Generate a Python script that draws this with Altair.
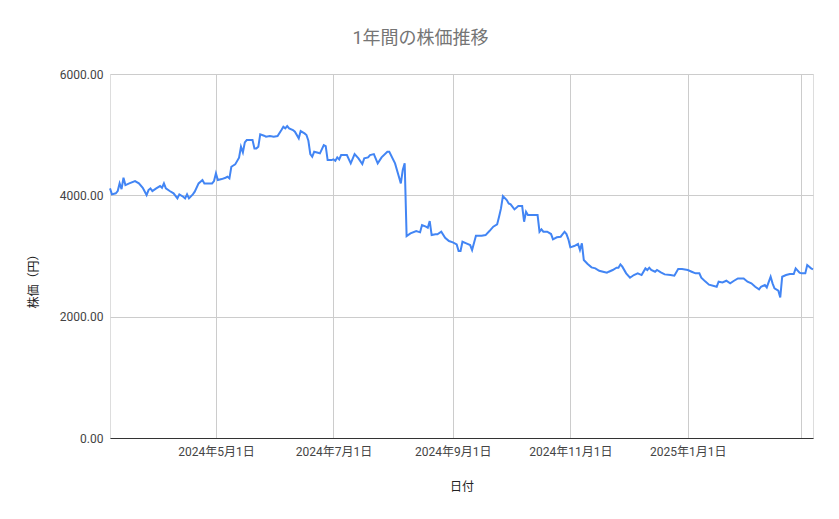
import altair as alt
import pandas as pd

dates = [
    "2024-03-07", "2024-03-08", "2024-03-10", "2024-03-11", "2024-03-12", "2024-03-13",
    "2024-03-14", "2024-03-15", "2024-03-17", "2024-03-20", "2024-03-22", "2024-03-24",
    "2024-03-26", "2024-03-27", "2024-03-28", "2024-03-29", "2024-03-31", "2024-04-02",
    "2024-04-03", "2024-04-04", "2024-04-05", "2024-04-07", "2024-04-09", "2024-04-11",
    "2024-04-12", "2024-04-14", "2024-04-15", "2024-04-16", "2024-04-17", "2024-04-19",
    "2024-04-20", "2024-04-22", "2024-04-24", "2024-04-25", "2024-04-29", "2024-04-30",
    "2024-05-01", "2024-05-02", "2024-05-04", "2024-05-06", "2024-05-07", "2024-05-08",
    "2024-05-09", "2024-05-11", "2024-05-13", "2024-05-14", "2024-05-15", "2024-05-16",
    "2024-05-17", "2024-05-20", "2024-05-21", "2024-05-22", "2024-05-23", "2024-05-24",
    "2024-05-26", "2024-05-27", "2024-05-29", "2024-05-31", "2024-06-02", "2024-06-04",
    "2024-06-05", "2024-06-06", "2024-06-07", "2024-06-08", "2024-06-10", "2024-06-11",
    "2024-06-13", "2024-06-14", "2024-06-16", "2024-06-17", "2024-06-18", "2024-06-19",
    "2024-06-20", "2024-06-21", "2024-06-23", "2024-06-24", "2024-06-26", "2024-06-27",
    "2024-06-28", "2024-06-30", "2024-07-01", "2024-07-02", "2024-07-03", "2024-07-04",
    "2024-07-05", "2024-07-08", "2024-07-10", "2024-07-12", "2024-07-14", "2024-07-16",
    "2024-07-17", "2024-07-19", "2024-07-20", "2024-07-22", "2024-07-24", "2024-07-26",
    "2024-07-29", "2024-07-30", "2024-08-02", "2024-08-04", "2024-08-05", "2024-08-06",
    "2024-08-07", "2024-08-08", "2024-08-10", "2024-08-13", "2024-08-15", "2024-08-16",
    "2024-08-18", "2024-08-19", "2024-08-20", "2024-08-21", "2024-08-23", "2024-08-24",
    "2024-08-26", "2024-08-28", "2024-08-30", "2024-09-01", "2024-09-03", "2024-09-04",
    "2024-09-05", "2024-09-06", "2024-09-08", "2024-09-10", "2024-09-11", "2024-09-13",
    "2024-09-14", "2024-09-16", "2024-09-18", "2024-09-20", "2024-09-22", "2024-09-24",
    "2024-09-25", "2024-09-26", "2024-09-27", "2024-09-29", "2024-09-30", "2024-10-01",
    "2024-10-03", "2024-10-05", "2024-10-07", "2024-10-08", "2024-10-09", "2024-10-10",
    "2024-10-15", "2024-10-16", "2024-10-17", "2024-10-18", "2024-10-20", "2024-10-22",
    "2024-10-23", "2024-10-25", "2024-10-27", "2024-10-29", "2024-10-30", "2024-10-31",
    "2024-11-01", "2024-11-03", "2024-11-05", "2024-11-06", "2024-11-07", "2024-11-08",
    "2024-11-10", "2024-11-12", "2024-11-14", "2024-11-16", "2024-11-18", "2024-11-20",
    "2024-11-21", "2024-11-23", "2024-11-25", "2024-11-26", "2024-11-27", "2024-11-28",
    "2024-11-30", "2024-12-02", "2024-12-04", "2024-12-06", "2024-12-08", "2024-12-10",
    "2024-12-11", "2024-12-12", "2024-12-13", "2024-12-15", "2024-12-16", "2024-12-18",
    "2024-12-20", "2024-12-23", "2024-12-25", "2024-12-27", "2024-12-29", "2025-01-01",
    "2025-01-03", "2025-01-05", "2025-01-07", "2025-01-08", "2025-01-10", "2025-01-12",
    "2025-01-16", "2025-01-17", "2025-01-19", "2025-01-21", "2025-01-23", "2025-01-25",
    "2025-01-27", "2025-01-30", "2025-02-01", "2025-02-03", "2025-02-05", "2025-02-07",
    "2025-02-08", "2025-02-10", "2025-02-11", "2025-02-13", "2025-02-14", "2025-02-15",
    "2025-02-17", "2025-02-18", "2025-02-19", "2025-02-21", "2025-02-23", "2025-02-25",
    "2025-02-26", "2025-02-28", "2025-03-01", "2025-03-03", "2025-03-04", "2025-03-06",
    "2025-03-07",
]

prices = [
    4115, 4016, 4033, 4071, 4197, 4103,
    4290, 4169, 4197, 4235, 4197, 4125,
    4005, 4087, 4115, 4071, 4115, 4153,
    4125, 4197, 4115, 4071, 4033, 3950,
    4016, 3977, 3950, 4016, 3950, 4016,
    4060, 4197, 4252, 4197, 4197, 4235,
    4362, 4252, 4268, 4290, 4307, 4279,
    4471, 4510, 4620, 4800, 4708, 4873,
    4911, 4911, 4774, 4774, 4800, 5005,
    4983, 4966, 4977, 4966, 4977, 5076,
    5131, 5104, 5142, 5104, 5076, 5048,
    4939, 5059, 5021, 4994, 4900, 4680,
    4636, 4718, 4702, 4692, 4829, 4812,
    4581, 4581, 4592, 4570, 4626, 4592,
    4664, 4664, 4527, 4680, 4609, 4515,
    4609, 4626, 4664, 4680, 4527, 4626,
    4718, 4718, 4527, 4307, 4197, 4417,
    4527, 3329, 3373, 3411, 3390, 3510,
    3483, 3466, 3576, 3345, 3357, 3357,
    3400, 3301, 3247, 3225, 3192, 3082,
    3082, 3235, 3209, 3181, 3098, 3334,
    3334, 3334, 3345, 3411, 3483, 3521,
    3647, 3785, 3988, 3922, 3867, 3851,
    3768, 3823, 3823, 3565, 3730, 3675,
    3675, 3400, 3439, 3400, 3400, 3362,
    3275, 3308, 3318, 3400, 3362, 3275,
    3143, 3164, 3197, 3098, 3209, 2933,
    2868, 2813, 2797, 2757, 2741, 2724,
    2741, 2769, 2807, 2807, 2862, 2824,
    2714, 2642, 2686, 2714, 2686, 2796,
    2769, 2807, 2769, 2741, 2769, 2730,
    2697, 2686, 2675, 2785, 2785, 2769,
    2741, 2714, 2714, 2642, 2582, 2527,
    2493, 2576, 2565, 2592, 2549, 2592,
    2631, 2631, 2576, 2549, 2493, 2450,
    2493, 2521, 2482, 2658, 2549, 2466,
    2427, 2317, 2658, 2686, 2703, 2703,
    2796, 2724, 2714, 2714, 2851, 2796,
    2780,
]

y_ticks = [0, 2000, 4000, 6000]
x_tick_dates = [(2024, 5), (2024, 7), (2024, 9), (2024, 11), (2025, 1), (2025, 3)]

df = pd.DataFrame({"日付": dates, "株価": prices})

FONT = "Roboto, 'Noto Sans CJK JP', sans-serif"

x_vals = [alt.DateTime(year=y, month=m, date=1, utc=True) for y, m in x_tick_dates]

chart = (
    alt.Chart(df)
    .mark_line(color="#4285F4", strokeWidth=2)
    .encode(
        x=alt.X(
            "日付:T",
            scale=alt.Scale(
                type="utc",
                domain=[
                    alt.DateTime(year=2024, month=3, date=7, utc=True),
                    alt.DateTime(year=2025, month=3, date=7, utc=True),
                ],
                nice=False,
            ),
            axis=alt.Axis(
                title="日付",
                values=x_vals,
                labelExpr="(utcyear(datum.value) == 2025 && utcmonth(datum.value) == 2) ? '' : utcFormat(datum.value, '%Y年%-m月%-d日')",
                grid=True,
                gridColor="#cccccc",
                ticks=False,
                tickSize=0,
                domain=True,
                domainColor="#333333",
                domainWidth=1,
                labelPadding=8,
                labelFontSize=12,
                labelColor="#444444",
                labelFont=FONT,
                labelOverlap=False,
                titleFont=FONT,
                titleFontSize=12,
                titleFontWeight="normal",
                titleColor="#222222",
                titleBaseline="middle",
                titleY=48,
            ),
        ),
        y=alt.Y(
            "株価:Q",
            scale=alt.Scale(domain=[0, 6000], nice=False),
            axis=alt.Axis(
                title="株価（円）",
                values=y_ticks,
                format=".2f",
                grid=True,
                gridColor="#cccccc",
                ticks=False,
                tickSize=0,
                domain=False,
                labelPadding=7,
                labelFontSize=12,
                labelColor="#444444",
                labelFont=FONT,
                titleFont=FONT,
                titleFontSize=12,
                titleFontWeight="normal",
                titleColor="#222222",
                titleBaseline="middle",
                titleX=-77,
                titleY=204,
            ),
        ),
    )
    .properties(
        width=703,
        height=364,
        autosize=alt.AutoSizeParams(type="none"),
        padding={"left": 102, "top": 66, "right": 18, "bottom": 73},
        title=alt.TitleParams(
            text="1年間の株価推移",
            font=FONT,
            fontSize=18,
            fontWeight="normal",
            color="#757575",
            anchor="middle",
            dx=-41,
            offset=20,
        ),
    )
    .configure_view(stroke=None)
    .configure(background="white")
)

chart.save("out.html", embed_options={"renderer": "svg", "actions": False})
